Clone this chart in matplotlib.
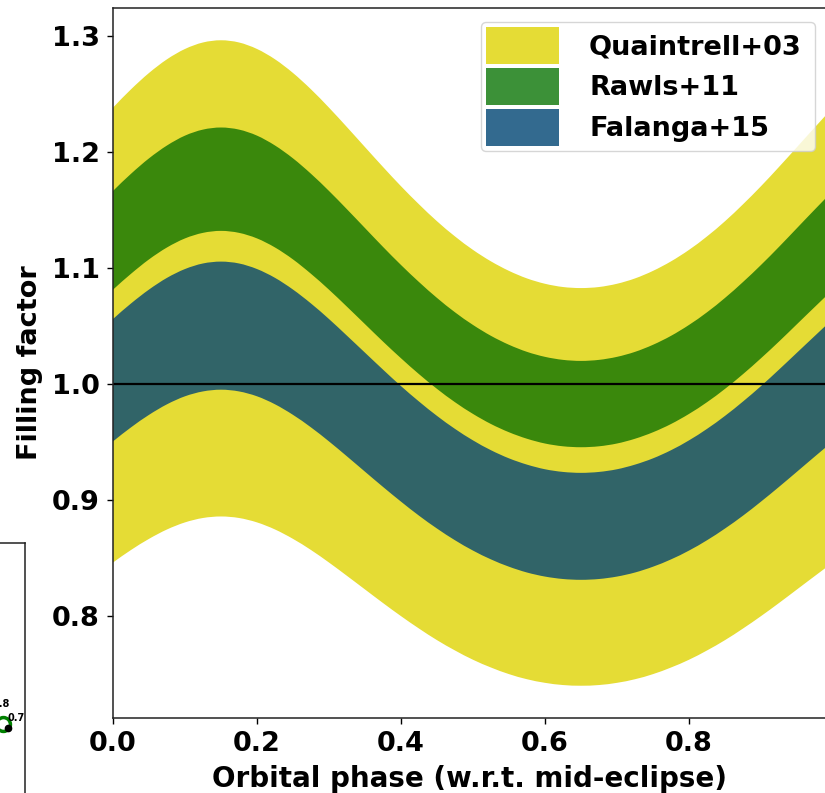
import matplotlib
matplotlib.use("Agg")
import matplotlib.pyplot as plt
from matplotlib.patches import Patch, PathPatch
from matplotlib.path import Path

# Orbital phase grid (w.r.t. mid-eclipse)
phase = [0.000, 0.025, 0.050, 0.075, 0.100, 0.125, 0.150, 0.175, 0.200, 0.225,
         0.250, 0.275, 0.300, 0.325, 0.350, 0.375, 0.400, 0.425, 0.450, 0.475,
         0.500, 0.525, 0.550, 0.575, 0.600, 0.625, 0.650, 0.675, 0.700, 0.725,
         0.750, 0.775, 0.800, 0.825, 0.850, 0.875, 0.900, 0.925, 0.950, 0.975,
         1.000]

# Filling-factor envelopes (upper / lower) for each stellar-parameter set
quaintrell_hi = [1.2379, 1.2537, 1.2678, 1.2796, 1.2885, 1.2941, 1.2960, 1.2941, 1.2885, 1.2796,
                 1.2678, 1.2537, 1.2379, 1.2211, 1.2039, 1.1868, 1.1702, 1.1546, 1.1400, 1.1269,
                 1.1153, 1.1054, 1.0972, 1.0907, 1.0861, 1.0833, 1.0824, 1.0833, 1.0861, 1.0907,
                 1.0972, 1.1054, 1.1153, 1.1269, 1.1400, 1.1546, 1.1702, 1.1868, 1.2039, 1.2211,
                 1.2379]
quaintrell_lo = [0.8458, 0.8566, 0.8662, 0.8743, 0.8804, 0.8842, 0.8855, 0.8842, 0.8804, 0.8743,
                 0.8662, 0.8566, 0.8458, 0.8343, 0.8226, 0.8109, 0.7996, 0.7889, 0.7789, 0.7700,
                 0.7620, 0.7553, 0.7496, 0.7452, 0.7421, 0.7402, 0.7396, 0.7402, 0.7421, 0.7452,
                 0.7496, 0.7553, 0.7620, 0.7700, 0.7789, 0.7889, 0.7996, 0.8109, 0.8226, 0.8343,
                 0.8458]
rawls_hi = [1.1661, 1.1809, 1.1942, 1.2053, 1.2138, 1.2190, 1.2208, 1.2190, 1.2138, 1.2053,
            1.1942, 1.1809, 1.1661, 1.1503, 1.1341, 1.1179, 1.1023, 1.0876, 1.0739, 1.0615,
            1.0506, 1.0412, 1.0335, 1.0274, 1.0231, 1.0205, 1.0196, 1.0205, 1.0231, 1.0274,
            1.0335, 1.0412, 1.0506, 1.0615, 1.0739, 1.0876, 1.1023, 1.1179, 1.1341, 1.1503,
            1.1661]
rawls_lo = [1.0810, 1.0947, 1.1071, 1.1174, 1.1252, 1.1300, 1.1317, 1.1300, 1.1252, 1.1174,
            1.1071, 1.0947, 1.0810, 1.0663, 1.0513, 1.0363, 1.0219, 1.0082, 0.9955, 0.9840,
            0.9739, 0.9652, 0.9581, 0.9525, 0.9484, 0.9460, 0.9452, 0.9460, 0.9484, 0.9525,
            0.9581, 0.9652, 0.9739, 0.9840, 0.9955, 1.0082, 1.0219, 1.0363, 1.0513, 1.0663,
            1.0810]
falanga_hi = [1.0557, 1.0691, 1.0811, 1.0912, 1.0988, 1.1036, 1.1052, 1.1036, 1.0988, 1.0912,
              1.0811, 1.0691, 1.0557, 1.0413, 1.0267, 1.0121, 0.9979, 0.9846, 0.9722, 0.9610,
              0.9511, 0.9426, 0.9356, 0.9302, 0.9262, 0.9239, 0.9231, 0.9239, 0.9262, 0.9302,
              0.9356, 0.9426, 0.9511, 0.9610, 0.9722, 0.9846, 0.9979, 1.0121, 1.0267, 1.0413,
              1.0557]
falanga_lo = [0.9502, 0.9623, 0.9731, 0.9822, 0.9891, 0.9933, 0.9948, 0.9933, 0.9891, 0.9822,
              0.9731, 0.9623, 0.9502, 0.9373, 0.9241, 0.9110, 0.8983, 0.8862, 0.8751, 0.8650,
              0.8561, 0.8485, 0.8422, 0.8372, 0.8337, 0.8316, 0.8309, 0.8316, 0.8337, 0.8372,
              0.8422, 0.8485, 0.8561, 0.8650, 0.8751, 0.8862, 0.8983, 0.9110, 0.9241, 0.9373,
              0.9502]

labels = ["Quaintrell+03", "Rawls+11", "Falanga+15"]
fill_colors = ["#e5dc35", "#3a880c", "#316468"]
legend_colors = ["#e5dc35", "#3c9138", "#336a8f"]

x_ticks = [0.0, 0.2, 0.4, 0.6, 0.8]
y_ticks = [0.8, 0.9, 1.0, 1.1, 1.2, 1.3]

# neighbouring orbit panel (only its corner is on the canvas)
side_x = [3.0]
side_y = [-181.0]
side_dot_x = [8.0]
side_dot_y = [-185.0]
side_labels = ["0.8", "0.7"]


def smooth_curve(xs, ys):
    """Cubic Bezier vertices through (xs, ys), Catmull-Rom tangents, periodic ends."""
    px = [xs[0] - (xs[1] - xs[0])] + list(xs) + [xs[-1] + (xs[-1] - xs[-2])]
    py = [ys[-2]] + list(ys) + [ys[1]]
    verts = [(xs[0], ys[0])]
    for k in range(len(xs) - 1):
        x0, x1, x2, x3 = px[k], px[k + 1], px[k + 2], px[k + 3]
        y0, y1, y2, y3 = py[k], py[k + 1], py[k + 2], py[k + 3]
        verts.append((x1 + (x2 - x0) / 6, y1 + (y2 - y0) / 6))
        verts.append((x2 - (x3 - x1) / 6, y2 - (y3 - y1) / 6))
        verts.append((x2, y2))
    return verts


def band_path(xs, hi, lo):
    up = smooth_curve(xs, hi)
    dn = smooth_curve(xs, lo)[::-1]
    verts = up + dn + [up[0]]
    codes = ([Path.MOVETO] + [Path.CURVE4] * (len(up) - 1)
             + [Path.LINETO] + [Path.CURVE4] * (len(dn) - 1) + [Path.CLOSEPOLY])
    return Path(verts, codes)


plt.rcParams["font.family"] = "DejaVu Sans"
plt.rcParams["font.weight"] = "bold"
plt.rcParams["axes.labelweight"] = "bold"

W, H = 825, 793
fig = plt.figure(figsize=(W / 100, H / 100), dpi=100)

ax = fig.add_axes([113 / W, 1 - 718 / H, 712.8 / W, 710 / H])

bands = [(quaintrell_hi, quaintrell_lo), (rawls_hi, rawls_lo), (falanga_hi, falanga_lo)]
for (hi, lo), c in zip(bands, fill_colors):
    ax.add_patch(PathPatch(band_path(phase, hi, lo), facecolor=c, edgecolor="none", linewidth=0))

ax.axhline(1.0, color="black", linewidth=1.6)

all_vals = [v for hi, lo in bands for v in hi + lo]
y_min, y_max = min(all_vals), max(all_vals)
y_pad = 0.05 * (y_max - y_min)
ax.set_ylim(y_min - y_pad, y_max + y_pad)
ax.set_xlim(0.0, 0.99)
ax.set_xticks(x_ticks)
ax.set_yticks(y_ticks)
ax.tick_params(labelsize=19.5, length=4.5, width=1.0, pad=5)
for lab in ax.get_xticklabels() + ax.get_yticklabels():
    lab.set_fontweight("bold")
ax.set_xlabel("Orbital phase (w.r.t. mid-eclipse)", fontsize=20, fontweight="bold", labelpad=5.5)
ax.set_ylabel("Filling factor", fontsize=19.5, fontweight="bold", labelpad=6)
for sp in ax.spines.values():
    sp.set_linewidth(1.1)
    sp.set_color("#222222")

handles = [Patch(facecolor=c, edgecolor="none") for c in legend_colors]
leg_x0 = (481 - 113) / 712.8
leg_w = (815 - 481) / 712.8
leg_top = 1 - (22 - 8) / 710
ax.legend(handles, labels, loc="upper left", mode="expand",
          bbox_to_anchor=(leg_x0, 0.5, leg_w, leg_top - 0.5),
          borderaxespad=0, prop={"weight": "bold", "size": 19.5},
          handlelength=2.695, handleheight=1.725, labelspacing=0.148,
          handletextpad=1.108, borderpad=0.185, fancybox=True)

# corner of the neighbouring panel
ax2 = fig.add_axes([-300 / W, 1 - 900 / H, 325 / W, 357 / H])
ax2.set_xlim(-300, 25)
ax2.set_ylim(-357, 0)
ax2.set_xticks([])
ax2.set_yticks([])
ax2.plot(side_x, side_y, "o", markersize=10, markerfacecolor="none",
         markeredgecolor="green", markeredgewidth=2.5)
ax2.plot(side_dot_x, side_dot_y, "o", markersize=4.5, color="black")
ax2.text(10, -161, side_labels[0], fontsize=7, fontweight="bold", ha="right", va="center")
ax2.text(7, -175, side_labels[1], fontsize=7, fontweight="bold", ha="left", va="center")
for sp in ax2.spines.values():
    sp.set_linewidth(1.1)
    sp.set_color("#222222")

fig.savefig("out.png", dpi=100)
